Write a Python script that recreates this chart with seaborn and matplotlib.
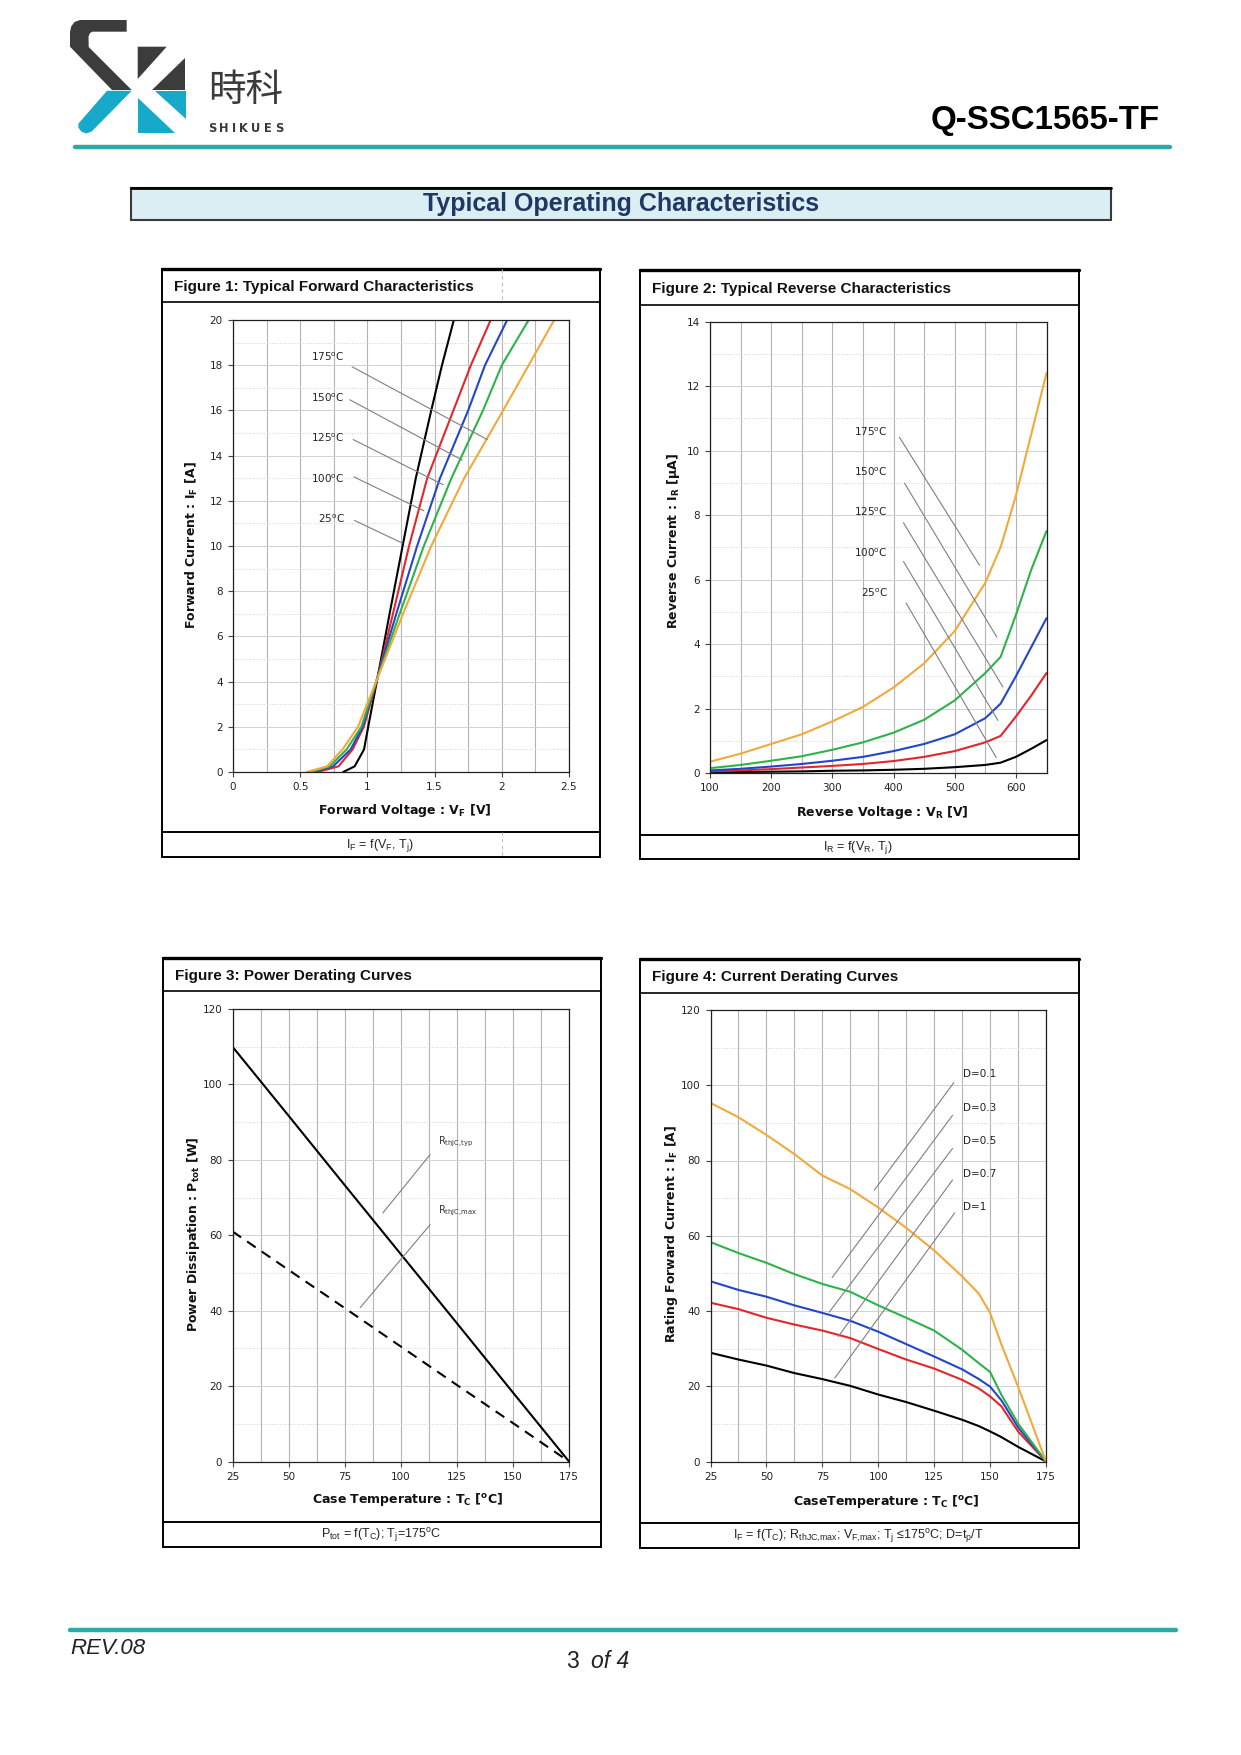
import numpy as np
import pandas as pd
import matplotlib
matplotlib.use('Agg')
import matplotlib.pyplot as plt
from matplotlib.patches import Rectangle, Polygon
import seaborn as sns

# Figure 1: forward characteristics (current levels shared, voltage per Tj)
fwd_current = [0, 0.25, 1, 2, 4, 7, 10, 13, 16, 18, 20]
vf_25 = [0.82, 0.905, 0.975, 1.006, 1.07, 1.165, 1.262, 1.36, 1.475, 1.555, 1.643]
vf_100 = [0.63, 0.785, 0.89, 0.973, 1.068, 1.19, 1.31, 1.445, 1.64, 1.77, 1.917]
vf_125 = [0.60, 0.745, 0.875, 0.965, 1.065, 1.215, 1.37, 1.54, 1.75, 1.875, 2.04]
vf_150 = [0.575, 0.72, 0.845, 0.955, 1.065, 1.24, 1.42, 1.625, 1.86, 2.0, 2.2]
vf_175 = [0.55, 0.70, 0.815, 0.93, 1.065, 1.265, 1.475, 1.72, 2.01, 2.2, 2.39]

# Figure 2: reverse characteristics
rev_voltage = [100, 150, 200, 250, 300, 350, 400, 450, 500, 550, 575, 600, 625, 650]
ir_25 = [0.02, 0.03, 0.04, 0.05, 0.07, 0.08, 0.10, 0.13, 0.18, 0.25, 0.32, 0.50, 0.75, 1.02]
ir_100 = [0.05, 0.08, 0.12, 0.17, 0.22, 0.28, 0.37, 0.50, 0.68, 0.95, 1.15, 1.75, 2.4, 3.1]
ir_125 = [0.08, 0.13, 0.20, 0.28, 0.38, 0.50, 0.68, 0.90, 1.20, 1.70, 2.15, 3.0, 3.9, 4.8]
ir_150 = [0.15, 0.25, 0.38, 0.52, 0.72, 0.95, 1.25, 1.65, 2.25, 3.1, 3.6, 4.9, 6.3, 7.5]
ir_175 = [0.35, 0.60, 0.90, 1.20, 1.60, 2.05, 2.65, 3.40, 4.40, 5.9, 7.0, 8.6, 10.5, 12.4]

# Figure 3: power derating
case_temp = [25, 50, 75, 100, 125, 150, 175]
ptot_typ = [110, 91.7, 73.3, 55, 36.7, 18.3, 0]
ptot_max = [61, 50.8, 40.7, 30.5, 20.3, 10.2, 0]

# Figure 4: current derating
derate_temp = [25, 37.5, 50, 62.5, 75, 87.5, 100, 112.5, 125, 137.5, 145, 150, 155, 162.5, 175]
if_d01 = [95.3, 91.5, 86.8, 81.7, 76.0, 72.4, 67.5, 62.1, 56.1, 49.2, 44.6, 39.5, 31.2, 19.9, 0]
if_d03 = [58.3, 55.4, 52.8, 49.8, 47.2, 45.1, 41.5, 38.2, 34.8, 29.7, 26.1, 23.8, 17.8, 10.1, 0]
if_d05 = [47.9, 45.6, 43.8, 41.5, 39.5, 37.4, 34.5, 31.2, 27.9, 24.5, 21.9, 19.9, 16.3, 9.1, 0]
if_d07 = [42.2, 40.5, 38.2, 36.4, 34.8, 32.8, 29.9, 27.1, 24.7, 21.7, 19.4, 17.3, 14.7, 8.0, 0]
if_d10 = [28.9, 27.1, 25.5, 23.5, 21.9, 20.1, 17.8, 15.8, 13.5, 11.1, 9.4, 8.0, 6.5, 3.9, 0]

temp_labels = ['25', '100', '125', '150', '175']
duty_labels = ['D=0.1', 'D=0.3', 'D=0.5', 'D=0.7', 'D=1']

# colours of the curves
C_BLACK = '#000000'
C_RED = '#E3262B'
C_BLUE = '#2446C8'
C_GREEN = '#2DB34A'
C_ORANGE = '#F2A93B'
TEAL = '#2BAAA8'
LOGO_DARK = '#3C3C3C'
LOGO_CYAN = '#17A9C9'

# ---- page setup ----
sns.set_theme(style='ticks')
plt.rcParams['font.family'] = ['DejaVu Sans']
plt.rcParams['mathtext.fontset'] = 'custom'
plt.rcParams['mathtext.rm'] = 'Liberation Sans'
plt.rcParams['mathtext.it'] = 'Liberation Sans:italic'
plt.rcParams['mathtext.bf'] = 'Liberation Sans:bold'

W, H = 1241, 1755
fig = plt.figure(figsize=(W / 100, H / 100), dpi=100)
page = fig.add_axes([0, 0, 1, 1])
page.set_xlim(0, W)
page.set_ylim(H, 0)
page.axis('off')

ARIAL = 'Liberation Sans'

# logo
page.add_patch(Polygon([(126.7, 20), (80, 20), (74.5, 22), (71.2, 26.5), (70, 32), (70, 46.7),
                        (112, 90), (131.7, 90), (88.7, 47), (88.5, 36.5), (90, 33), (92.5, 31.7),
                        (126.7, 31.7)], closed=True, fc=LOGO_DARK, ec='none'))
page.add_patch(Polygon([(107, 90.8), (131.7, 90.8), (91.7, 131.5), (86.5, 133.5), (81.5, 131.8),
                        (78.3, 127.5), (78.5, 123.5)], closed=True, fc=LOGO_CYAN, ec='none'))
page.add_patch(Polygon([(137.7, 46.7), (166.7, 46.7), (137.7, 79)], closed=True, fc=LOGO_DARK, ec='none'))
page.add_patch(Polygon([(185, 58.3), (185, 90), (152.3, 90)], closed=True, fc=LOGO_DARK, ec='none'))
page.add_patch(Polygon([(155, 91), (186.3, 91), (186.3, 119)], closed=True, fc=LOGO_CYAN, ec='none'))
page.add_patch(Polygon([(137.5, 98.3), (137.5, 133.3), (175, 133.3)], closed=True, fc=LOGO_CYAN, ec='none'))
page.text(246, 90, '時科', fontsize=27, color='#3A3A3A', ha='center', va='center',
          family=['Noto Sans CJK SC', 'DejaVu Sans'])
# letter-spaced brand name
shikues_w = [0.72, 0.837, 0.372, 0.775, 0.812, 0.683, 0.72]
x_cursor = 208
for ch, wid in zip('SHIKUES', shikues_w):
    page.text(x_cursor, 128.5, ch, fontsize=8.3, fontweight='bold', color='#3A3A3A',
              ha='left', va='center')
    x_cursor += wid * 11.5 + 3.1

page.text(1160, 120, 'Q-SSC1565-TF', fontsize=23.8, fontweight='bold', family=ARIAL,
          ha='right', va='center', color='black')
page.plot([75, 1170], [147, 147], color=TEAL, lw=3.2, solid_capstyle='round')

# section title box
page.add_patch(Rectangle((131, 187.5), 980, 32, fc='#DAEEF3', ec='#3A3A3A', lw=1.5))
page.plot([131, 1111], [187.5, 187.5], color='black', lw=2)
page.text(621, 204, 'Typical Operating Characteristics', fontsize=18, fontweight='bold',
          family=ARIAL, color='#1F3864', ha='center', va='center')

# footer
page.plot([70, 1176], [1630, 1630], color=TEAL, lw=3.2, solid_capstyle='round')
page.text(70, 1649, 'REV.08', fontsize=16, style='italic', family=ARIAL, ha='left', va='center',
          color='#222222')
page.text(572, 1662, '3', fontsize=16.5, family=ARIAL, ha='center', va='center', color='#222222')
page.text(591, 1662, 'of 4', fontsize=16.5, style='italic', family=ARIAL, ha='left', va='center',
          color='#222222')


def frame(x0, y0, x1, y1, yt, yc, title, caption):
    page.add_patch(Rectangle((x0, y0), x1 - x0, y1 - y0, fill=False, ec='black', lw=1.4))
    page.plot([x0, x1], [y0, y0], color='black', lw=2.4)
    page.plot([x0, x1], [yt, yt], color='black', lw=1.2)
    page.plot([x0, x1], [yc, yc], color='black', lw=1.4)
    page.text(x0 + 12.5, (y0 + yt) / 2 + 1.5, title, fontsize=11, fontweight='bold', family=ARIAL,
              ha='left', va='center', color='#111111')
    page.text((x0 + x1) / 2 - 1, (yc + y1) / 2 + 1, caption, fontsize=9, family=ARIAL,
              ha='center', va='center', color='#222222')


def chart(x0, y0, x1, y1, xlim, ylim, xmaj, xmin, ymaj, ymin, xlabels):
    ax = fig.add_axes([x0 / W, 1 - y1 / H, (x1 - x0) / W, (y1 - y0) / H])
    ax.set_xlim(*xlim)
    ax.set_ylim(*ylim)
    ax.set_xticks(xmaj)
    ax.set_xticks(xmin, minor=True)
    ax.set_yticks(ymaj)
    ax.set_yticks(ymin, minor=True)
    ax.set_xticklabels(xlabels)
    ax.grid(which='both', axis='x', color='#B4B4B4', lw=0.8, ls='-')
    ax.grid(which='major', axis='y', color='#D2D2D2', lw=0.7, ls='-')
    ax.grid(which='minor', axis='y', color='#D2D2D2', lw=0.7, ls=':')
    ax.tick_params(which='major', direction='out', length=3.5, width=0.8, color='#404040',
                   labelsize=7.5, pad=4, labelcolor='#222222', bottom=True, left=True)
    ax.tick_params(which='minor', length=0)
    for s in ax.spines.values():
        s.set_visible(True)
        s.set_color('#202020')
        s.set_linewidth(0.9)
    ax.set_axisbelow(True)
    ax.set_xlabel('')
    ax.set_ylabel('')
    return ax


def curve(ax, x, y, color, **kw):
    sns.lineplot(x=x, y=y, ax=ax, color=color, lw=1.5, estimator=None, sort=False, **kw)


def leader(ax, p0, p1):
    ax.plot([p0[0], p1[0]], [p0[1], p1[1]], color='#7F7F7F', lw=0.8)


# ---------- Figure 1 ----------
frame(162, 269, 600, 857, 302, 832, 'Figure 1: Typical Forward Characteristics',
      r'I$_\mathrm{F}$ = f(V$_\mathrm{F}$, T$_\mathrm{j}$)')
for yy in [(269, 302), (832, 857)]:
    page.plot([502, 502], yy, color='#BBBBBB', lw=0.8, ls=(0, (3, 3)))
ax1 = chart(233, 320, 569, 772, (0, 2.5), (0, 20), [0, 0.5, 1, 1.5, 2, 2.5],
            np.arange(0, 2.51, 0.25), np.arange(0, 21, 2), np.arange(0, 21, 1),
            ['0', '0.5', '1', '1.5', '2', '2.5'])
for v, c in [(vf_25, C_BLACK), (vf_100, C_RED), (vf_125, C_BLUE), (vf_150, C_GREEN), (vf_175, C_ORANGE)]:
    curve(ax1, v, fwd_current, c)
fig1_text_y = [11.21, 12.99, 14.78, 16.55, 18.36]
fig1_lines = [((0.904, 11.13), (1.259, 10.13)), ((0.899, 13.06), (1.42, 11.56)),
              ((0.894, 14.71), (1.564, 12.71)), ((0.869, 16.47), (1.706, 13.80)),
              ((0.886, 17.93), (1.892, 14.71))]
for lab, ty, (p0, p1) in zip(temp_labels, fig1_text_y, fig1_lines):
    ax1.text(0.832, ty, lab + r'$^\mathrm{o}$C', fontsize=7.5, ha='right', va='center',
             math_fontfamily='dejavusans', color='#222222')
    leader(ax1, p0, p1)
page.text(405, 810, r'Forward Voltage : V$_\mathbf{F}$ [V]', fontsize=9, fontweight='bold',
          ha='center', va='center', math_fontfamily='dejavusans', color='#111111')
page.text(192, 545, r'Forward Current : I$_\mathbf{F}$ [A]', fontsize=9, fontweight='bold',
          ha='center', va='center', rotation=90, math_fontfamily='dejavusans', color='#111111')

# ---------- Figure 2 ----------
frame(639.5, 270, 1078.5, 859, 304.5, 834.5, 'Figure 2: Typical Reverse Characteristics',
      r'I$_\mathrm{R}$ = f(V$_\mathrm{R}$, T$_\mathrm{j}$)')
ax2 = chart(710, 321.5, 1046.5, 773, (100, 650), (0, 14), [100, 200, 300, 400, 500, 600],
            np.arange(100, 651, 50), np.arange(0, 15, 2), np.arange(0, 15, 1),
            ['100', '200', '300', '400', '500', '600'])
for i_r, c in [(ir_25, C_BLACK), (ir_100, C_RED), (ir_125, C_BLUE), (ir_150, C_GREEN), (ir_175, C_ORANGE)]:
    curve(ax2, rev_voltage, i_r, c)
fig2_text_y = [5.6, 6.84, 8.09, 9.33, 10.59]
fig2_lines = [((420.6, 5.27), (567.8, 0.48)), ((416.2, 6.56), (570.6, 1.63)),
              ((416.2, 7.76), (578.7, 2.67)), ((417.9, 8.99), (568.9, 4.21)),
              ((409.7, 10.41), (540.6, 6.44))]
for lab, ty, (p0, p1) in zip(temp_labels, fig2_text_y, fig2_lines):
    ax2.text(390.6, ty, lab + r'$^\mathrm{o}$C', fontsize=7.5, ha='right', va='center',
             math_fontfamily='dejavusans', color='#222222')
    leader(ax2, p0, p1)
page.text(882, 812, r'Reverse Voltage : V$_\mathbf{R}$ [V]', fontsize=9, fontweight='bold',
          ha='center', va='center', math_fontfamily='dejavusans', color='#111111')
page.text(673, 541, r'Reverse Current : I$_\mathbf{R}$ [µA]', fontsize=9, fontweight='bold',
          ha='center', va='center', rotation=90, math_fontfamily='dejavusans', color='#111111')

# ---------- Figure 3 ----------
frame(162.5, 957.5, 601, 1546.5, 991, 1522, 'Figure 3: Power Derating Curves',
      r'P$_\mathrm{tot}$ = f(T$_\mathrm{C}$); T$_\mathrm{j}$=175$^\mathrm{o}$C')
ax3 = chart(232.5, 1009, 569, 1461.5, (25, 175), (0, 120), [25, 50, 75, 100, 125, 150, 175],
            np.arange(25, 176, 12.5), np.arange(0, 121, 20), np.arange(0, 121, 10),
            ['25', '50', '75', '100', '125', '150', '175'])
curve(ax3, case_temp, ptot_typ, C_BLACK)
sns.lineplot(x=case_temp, y=ptot_max, ax=ax3, color=C_BLACK, lw=1.5, estimator=None, sort=False,
             linestyle=(0, (5, 3.5)))
ax3.text(116.8, 84.7, r'R$_\mathrm{thJC{,}typ}$', fontsize=7, ha='left', va='center',
         math_fontfamily='dejavusans', color='#333333')
ax3.text(116.8, 66.6, r'R$_\mathrm{thJC{,}max}$', fontsize=7, ha='left', va='center',
         math_fontfamily='dejavusans', color='#333333')
leader(ax3, (113.1, 81.4), (92.0, 65.9))
leader(ax3, (113.1, 62.8), (81.9, 40.8))
page.text(408, 1500, r'Case Temperature : T$_\mathbf{C}$ [$^\mathbf{o}$C]', fontsize=9,
          fontweight='bold', ha='center', va='center', math_fontfamily='dejavusans', color='#111111')
page.text(194, 1234, r'Power Dissipation : P$_\mathbf{tot}$ [W]', fontsize=9, fontweight='bold',
          ha='center', va='center', rotation=90, math_fontfamily='dejavusans', color='#111111')

# ---------- Figure 4 ----------
frame(639.5, 958.5, 1078.5, 1547.5, 993, 1523, 'Figure 4: Current Derating Curves',
      r'I$_\mathrm{F}$ = f(T$_\mathrm{C}$); R$_\mathrm{thJC{,}max}$; V$_\mathrm{F{,}max}$; '
      r'T$_\mathrm{j}$ ≤175$^\mathrm{o}$C; D=t$_\mathrm{p}$/T')
ax4 = chart(710.5, 1010, 1046, 1461.5, (25, 175), (0, 120), [25, 50, 75, 100, 125, 150, 175],
            np.arange(25, 176, 12.5), np.arange(0, 121, 20), np.arange(0, 121, 10),
            ['25', '50', '75', '100', '125', '150', '175'])
for i_f, c in [(if_d10, C_BLACK), (if_d07, C_RED), (if_d05, C_BLUE), (if_d03, C_GREEN), (if_d01, C_ORANGE)]:
    curve(ax4, derate_temp, i_f, c)
fig4_text_y = [103.1, 94.0, 85.3, 76.5, 67.6]
fig4_lines = [((133.8, 100.7), (98.2, 72.1)), ((133.2, 92.0), (79.4, 48.9)),
              ((133.2, 83.2), (78.1, 39.7)), ((133.2, 74.8), (82.1, 33.2)),
              ((134.2, 66.1), (80.6, 22.2))]
for lab, ty, (p0, p1) in zip(duty_labels, fig4_text_y, fig4_lines):
    ax4.text(138, ty, lab, fontsize=7.5, ha='left', va='center', color='#222222')
    leader(ax4, p0, p1)
page.text(886, 1501, r'CaseTemperature : T$_\mathbf{C}$ [$^\mathbf{o}$C]', fontsize=9,
          fontweight='bold', ha='center', va='center', math_fontfamily='dejavusans', color='#111111')
page.text(672, 1234, r'Rating Forward Current : I$_\mathbf{F}$ [A]', fontsize=9, fontweight='bold',
          ha='center', va='center', rotation=90, math_fontfamily='dejavusans', color='#111111')

fig.savefig('out.png', dpi=100)
